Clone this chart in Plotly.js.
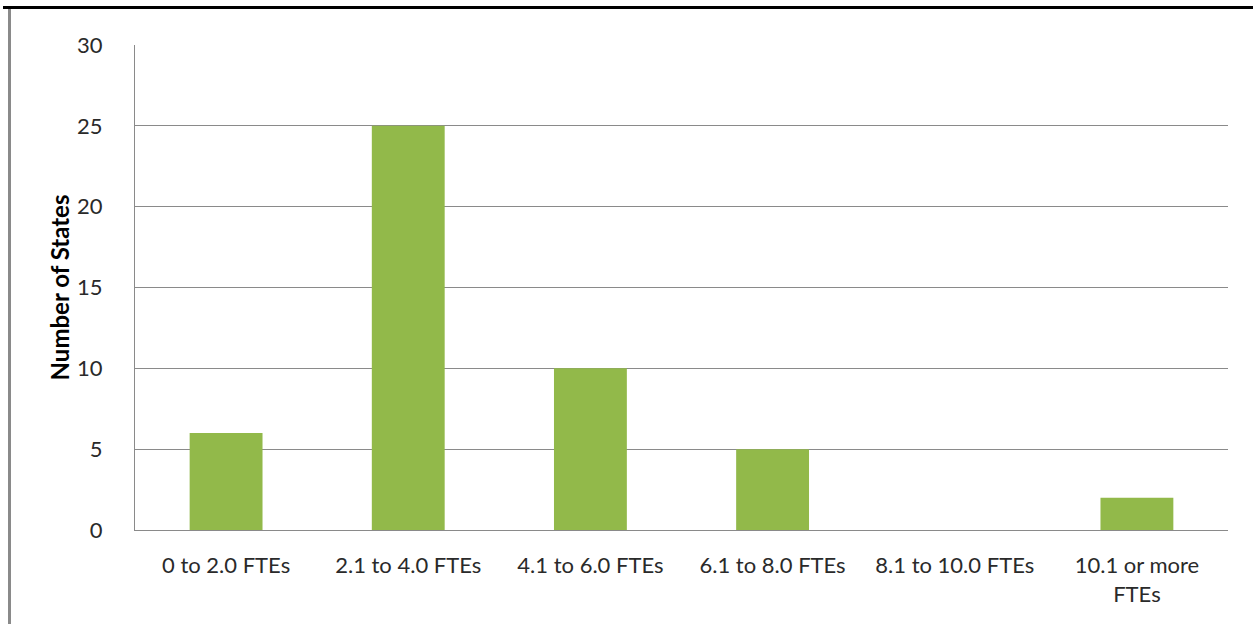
<!DOCTYPE html>
<html>
<head>
<meta charset="utf-8">
<script src="https://cdn.plot.ly/plotly-3.0.1.min.js"></script>
<style>
  html, body { margin: 0; padding: 0; background: #ffffff; }
  #frame { position: relative; width: 1253px; height: 624px; overflow: hidden; }
  #topRule { position: absolute; left: 3px; top: 6px; width: 1250px; height: 3px; background: #000; }
  #leftRule { position: absolute; left: 8px; top: 9px; width: 3px; height: 615px; background: #8a8a8a; }
  #chart { position: absolute; left: 0; top: 0; width: 1253px; height: 624px; }
</style>
</head>
<body>
<div id="frame">
  <div id="chart"></div>
  <div id="topRule"></div>
  <div id="leftRule"></div>
</div>
<script>
// FTE staffing bands and the number of states in each
const categories = ["0 to 2.0 FTEs", "2.1 to 4.0 FTEs", "4.1 to 6.0 FTEs", "6.1 to 8.0 FTEs", "8.1 to 10.0 FTEs", "10.1 or more<br>FTEs"];
const stateCounts = [6, 25, 10, 5, 0, 2];
const yTicks = [0, 5, 10, 15, 20, 25, 30];

const font = "Lato, 'Open Sans', sans-serif";
const textColor = "#2a2a2a";

Plotly.newPlot("chart", [{
  type: "bar",
  x: categories,
  y: stateCounts,
  marker: { color: "#92b94a", line: { width: 0 } },
  hoverinfo: "x+y"
}], {
  width: 1253,
  height: 624,
  margin: { l: 135, r: 25, t: 45, b: 94 },
  paper_bgcolor: "#ffffff",
  plot_bgcolor: "#ffffff",
  bargap: 0.6,
  showlegend: false,
  font: { family: font, size: 22, color: textColor },
  xaxis: {
    type: "category",
    showgrid: false,
    showline: true,
    linecolor: "#8a8a8a",
    linewidth: 1,
    ticks: "",
    tickfont: { family: font, size: 22, color: textColor },
    ticklabelstandoff: 16
  },
  yaxis: {
    range: [0, 30],
    tickvals: yTicks,
    ticktext: yTicks.map(String),
    showgrid: true,
    gridcolor: "#8a8a8a",
    gridwidth: 1,
    showline: true,
    linecolor: "#8a8a8a",
    linewidth: 1,
    zeroline: false,
    ticks: "",
    ticklabelstandoff: 27,
    tickfont: { family: font, size: 22, color: textColor },
    title: { text: "<b>Number of States</b>", font: { family: font, size: 24, color: "#000" }, standoff: 0 }
  }
}, { displayModeBar: false, staticPlot: true });
</script>
</body>
</html>
